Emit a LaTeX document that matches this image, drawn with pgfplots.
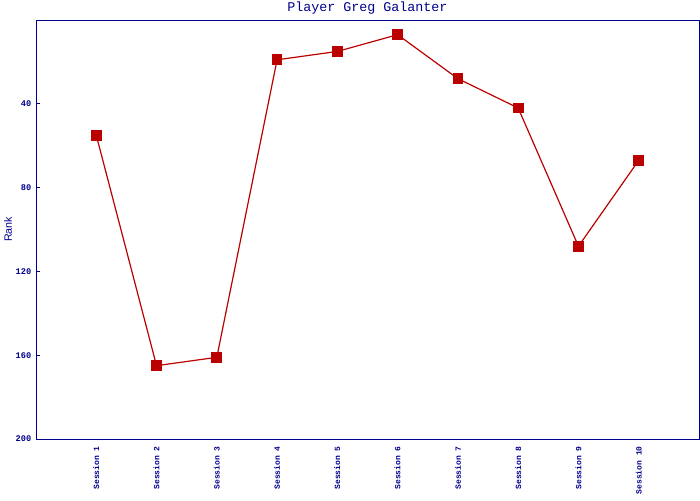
\documentclass[border=0pt]{standalone}
\usepackage{pgfplots}
\pgfplotsset{compat=1.18}
\usepackage{fontspec}
\setmainfont{Liberation Mono}
\newfontfamily\labelfont{Liberation Sans}
\definecolor{navy}{RGB}{0,0,140}
\definecolor{rankred}{RGB}{187,0,0}

\begin{document}
\begin{tikzpicture}[x=0.75pt,y=0.75pt]
  % page = 700 x 500 px, plot box from (36,20) to (699,439)
  \useasboundingbox (-36,-61) rectangle (664,439);
  \begin{axis}[
      at={(0,0)}, anchor=south west,
      scale only axis,
      width=497.25pt, height=314.25pt,
      xmin=0, xmax=11,
      ymin=0, ymax=200, y dir=reverse,
      xtick={1,...,10},
      xticklabels={Session 1,Session 2,Session 3,Session 4,Session 5,
                   Session 6,Session 7,Session 8,Session 9,Session 10},
      x tick label style={rotate=90, anchor=east, font=\bfseries\fontsize{6}{7}\selectfont,
                          text=navy, xshift=-2pt},
      xtick style={draw=none},
      ytick={40,80,...,200},
      ytick pos=left,
      y tick label style={font=\bfseries\fontsize{6.5}{7}\selectfont, text=navy},
      ytick style={draw=navy, semithick},
      tick align=inside,
      major tick length=3pt,
      axis line style={draw=navy, semithick},
      ylabel={\labelfont Rank},
      ylabel style={font=\fontsize{8}{9}\selectfont, text=navy,
                    at={(axis description cs:-0.042,0.5)}, anchor=center},
      title={Player Greg Galanter},
      title style={font=\fontsize{10}{11}\selectfont, text=navy, yshift=-5pt},
      /pgf/number format/assume math mode=true,
      clip=false,
    ]
    \addplot[color=rankred, line width=0.9pt, mark=square*, mark size=3.6pt,
             mark options={fill=rankred, draw=rankred}]
      coordinates {
        (1,55) (2,165) (3,161) (4,19) (5,15)
        (6,7) (7,28) (8,42) (9,108) (10,67)
      };
  \end{axis}
\end{tikzpicture}
\end{document}
